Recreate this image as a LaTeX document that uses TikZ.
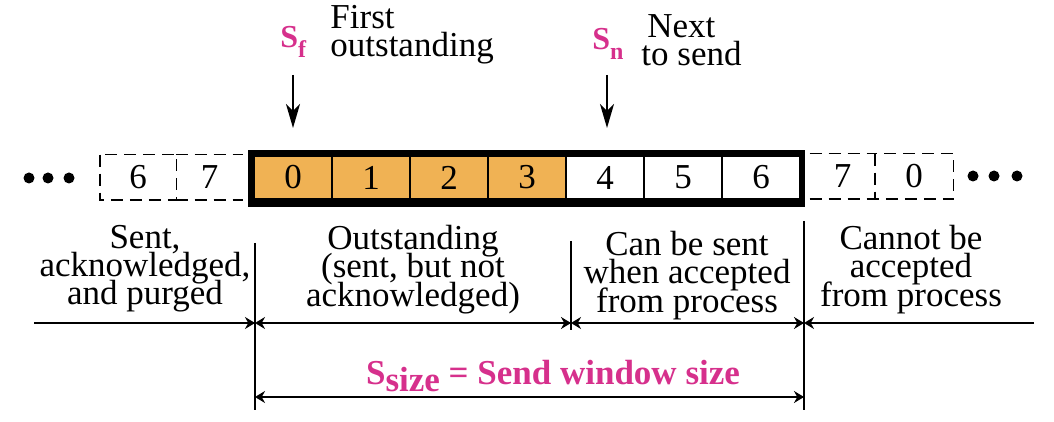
\documentclass[tikz,border=0pt]{standalone}
\usepackage{fontspec}
\setmainfont{Liberation Serif}
\usetikzlibrary{arrows.meta}
\definecolor{winorange}{RGB}{240,178,84}
\definecolor{mag}{RGB}{214,48,140}
\newcommand\labfont{\fontsize{17.5}{14.1}\selectfont\lineskiplimit=-20pt\relax}
\begin{document}
\begin{tikzpicture}[x=0.5pt,y=-0.5pt,
  cell/.style={draw, line width=0.6pt, minimum width=39pt, minimum height=21.5pt, inner sep=0pt, font=\labfont},
  ghost/.style={minimum height=22.5pt, inner sep=0pt, font=\labfont},
  dashbox/.style={line width=0.9pt, dash pattern=on 6pt off 3.5pt},
  dot/.style={circle, fill=black, inner sep=0pt, minimum size=5.5pt},
  lbl/.style={inner sep=0pt, align=center, font=\labfont},
  downarr/.style={line width=0.9pt, -{Stealth[length=12pt, width=7pt, inset=3.5pt]}},
  harr/.style={line width=1pt, -{Stealth[length=5pt, width=6pt]}},
  hharr/.style={line width=1pt, {Stealth[length=5pt, width=6pt]}-{Stealth[length=5pt, width=6pt]}},
  vline/.style={line width=1pt},
  sym/.style={inner sep=0pt, text=mag, font=\fontsize{16}{16}\selectfont\bfseries}
]
\useasboundingbox (0,0) rectangle (1054,422);

% window
\node[fill=black, minimum width=278.5pt, minimum height=28.5pt, inner sep=0pt] (win) at (526.5,178.5) {};
\node[cell, fill=winorange] (c0) at (293,177.5) {0};
\node[cell, fill=winorange] (c1) at (371,177.5) {1};
\node[cell, fill=winorange] (c2) at (449,177.5) {2};
\node[cell, fill=winorange] (c3) at (527,177.5) {3};
\node[cell, fill=white] (c4) at (605,177.5) {4};
\node[cell, fill=white] (c5) at (683,177.5) {5};
\node[cell, fill=white] (c6) at (761,177.5) {6};

% dashed boxes
\node[ghost, minimum width=38pt] (d6) at (138,177.5) {6};
\node[ghost, minimum width=33.5pt] (d7) at (209.5,177.5) {7};
\draw[dashbox] (d6.north west) rectangle (d6.south east);
\draw[dashbox] (d7.north west) -- (d7.north east) (d7.south west) -- (d7.south east);
\node[ghost, minimum width=32.5pt] (e7) at (842.5,176.5) {7};
\node[ghost, minimum width=39pt] (e0) at (914,176.5) {0};
\draw[dashbox] (e7.north west) -- (e7.north east) (e7.south west) -- (e7.south east);
\draw[dashbox] (e0.north west) rectangle (e0.south east);

% dots
\node[dot] (l1) at (29,178) {};
\node[dot] (l2) at (48,178) {};
\node[dot] (l3) at (69,178) {};
\node[dot] (r1) at (973,176) {};
\node[dot] (r2) at (994,176) {};
\node[dot] (r3) at (1017,176) {};

% pointers
\node[sym, anchor=base west] (sf) at (280,48) {S\raisebox{-0.3em}{\fontsize{12}{12}\selectfont f}};
\node[lbl, align=left, anchor=north west] (sft) at (330,5) {First\\outstanding};
\node[sym, anchor=base west] (sn) at (592,50) {S\raisebox{-0.3em}{\fontsize{12}{12}\selectfont n}};
\node[lbl, align=left, anchor=north west] (snt) at (641,14) {\hspace{3pt}Next\\to send};
\coordinate (sfa) at (293,75);
\coordinate (sfb) at (293,128);
\coordinate (sna) at (607,75);
\coordinate (snb) at (607,128);
\draw[downarr] (sfa) -- (sfb);
\draw[downarr] (sna) -- (snb);

% region labels
\node[lbl, anchor=north] (t1) at (145,225) {Sent,\\acknowledged,\\and purged};
\node[lbl, anchor=north] (t2) at (413,225) {Outstanding\\(sent, but not\\acknowledged)};
\node[lbl, anchor=north] (t3) at (687,231) {Can be sent\\when accepted\\from process};
\node[lbl, anchor=north] (t4) at (911,225) {Cannot be\\accepted\\from process};

% vertical markers
\coordinate (v1t) at (255,243);
\coordinate (v1b) at (255,410);
\coordinate (v2t) at (571,241);
\coordinate (v2b) at (571,330);
\coordinate (v3t) at (804,221);
\coordinate (v3b) at (804,410);
\draw[vline] (v1t) -- (v1b);
\draw[vline] (v2t) -- (v2b);
\draw[vline] (v3t) -- (v3b);

% horizontal arrows
\coordinate (hL) at (34,323);
\coordinate (hA) at (255,323);
\coordinate (hB) at (571,323);
\coordinate (hC) at (804,323);
\coordinate (hR) at (1034,323);
\draw[harr] (hL) -- (hA);
\draw[hharr] (hA) -- (hB);
\draw[hharr] (hB) -- (hC);
\draw[harr] (hR) -- (hC);

% window size
\coordinate (bA) at (255,397);
\coordinate (bC) at (804,397);
\draw[hharr] (bA) -- (bC);
\node[anchor=base, inner sep=0pt, text=mag, font=\labfont\bfseries] (ss) at (553,384) {S\raisebox{-0.22em}{size} = Send window size};
\end{tikzpicture}
\end{document}
